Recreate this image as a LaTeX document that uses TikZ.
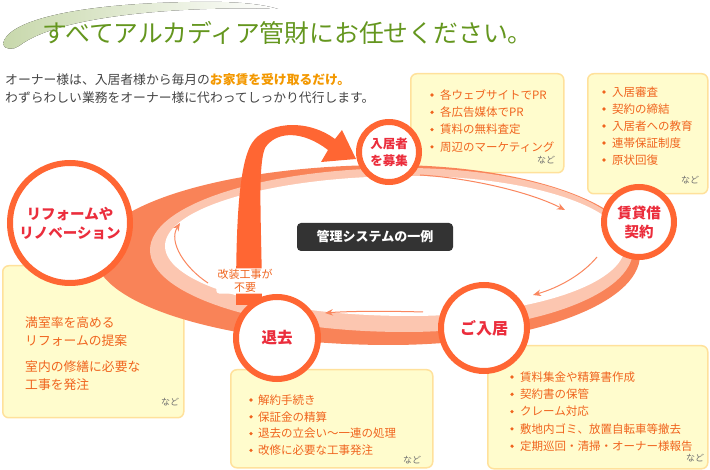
\documentclass[tikz,border=0pt]{standalone}
\usepackage{fontspec}
\setmainfont{Noto Sans CJK JP}
\usetikzlibrary{arrows.meta}
\definecolor{ringdark}{RGB}{249,131,88}
\definecolor{ringlight}{RGB}{252,198,176}
\definecolor{circc}{RGB}{255,102,51}
\definecolor{labelred}{RGB}{235,45,60}
\definecolor{boxfill}{RGB}{255,252,205}
\definecolor{boxdraw}{RGB}{255,225,155}
\definecolor{boxtext}{RGB}{240,100,30}
\definecolor{nadogray}{RGB}{110,110,110}
\definecolor{titlegreen}{RGB}{100,150,30}
\definecolor{subgray}{RGB}{68,68,68}
\definecolor{hl}{RGB}{243,152,0}
\definecolor{flowc}{RGB}{250,135,95}
\definecolor{swl}{RGB}{200,216,172}
\definecolor{darklabel}{RGB}{51,51,51}
\begin{document}
\begin{tikzpicture}[x=1pt,y=-1pt,
 box/.style={draw=boxdraw,fill=boxfill,line width=1.5pt,rounded corners=6pt,inner sep=0pt,anchor=north west},
 itm/.style={font=\fontsize{11.5}{14}\selectfont,text=boxtext,anchor=west,inner sep=0pt},
 bul/.style={circle,fill=boxtext,inner sep=0pt,minimum size=3.6pt},
 nado/.style={font=\fontsize{9}{10}\selectfont,text=nadogray,inner sep=0pt},
 stage/.style={circle,draw=circc,line width=6pt,fill=white,inner sep=0pt,align=center,text=labelred},
 flow/.style={draw=flowc,line width=1pt,-{Stealth[length=8pt,width=6.5pt]}},
]
\useasboundingbox (0,0) rectangle (710,470);
% title swoosh
\fill[left color=swl,right color=white] (3,44) .. controls (6,22) and (70,4) .. (190,2)
  .. controls (235,1) and (262,4) .. (278,9)
  .. controls (190,6) and (60,14) .. (19,46) .. controls (14,50) and (4,50) .. (3,44) -- cycle;
\node[anchor=west,inner sep=0pt,font=\fontsize{24.8}{25}\selectfont,text=titlegreen] (title) at (42,33) {すべてアルカディア管財にお任せください。};
\node[anchor=west,inner sep=0pt,font=\fontsize{12.8}{14}\selectfont,text=subgray] (sub1) at (5,80) {オーナー様は、入居者様から毎月の{\bfseries\color{hl}お家賃を受け取るだけ。}};
\node[anchor=west,inner sep=0pt,font=\fontsize{12.8}{14}\selectfont,text=subgray] (sub2) at (5,98) {わずらわしい業務をオーナー様に代わってしっかり代行します。};

% boxes
\node[box,minimum width=153pt,minimum height=99pt] (boxA) at (410,73) {};
\node[box,minimum width=120pt,minimum height=120pt] (boxB) at (587,73) {};
\node[box,minimum width=181pt,minimum height=152pt] (boxC) at (2,265) {};
\node[box,minimum width=202pt,minimum height=98pt] (boxD) at (230,369) {};
\node[box,minimum width=220pt,minimum height=123pt] (boxE) at (487,345) {};

\foreach \t [count=\i] in {各ウェブサイトでPR,各広告媒体でPR,賃料の無料査定,周辺のマーケティング}{
  \node[bul] (Ab\i) at (432,{95+17.3*(\i-1)}) {};
  \node[itm] (A\i) at (440,{95+17.3*(\i-1)}) {\t};}
\node[nado] (An) at (546,160) {など};
\foreach \t [count=\i] in {入居審査,契約の締結,入居者への教育,連帯保証制度,原状回復}{
  \node[bul] (Bb\i) at (604,{92+17*(\i-1)}) {};
  \node[itm] (B\i) at (612,{92+17*(\i-1)}) {\t};}
\node[nado] (Bn) at (690,180) {など};
\node[itm,font=\fontsize{12.8}{14}\selectfont] (C1) at (25,323) {満室率を高める};
\node[itm,font=\fontsize{12.8}{14}\selectfont] (C2) at (25,341) {リフォームの提案};
\node[itm,font=\fontsize{12.8}{14}\selectfont] (C3) at (25,367) {室内の修繕に必要な};
\node[itm,font=\fontsize{12.8}{14}\selectfont] (C4) at (25,385) {工事を発注};
\node[nado] (Cn) at (170,402) {など};
\foreach \t [count=\i] in {解約手続き,保証金の精算,退去の立会い～一連の処理,改修に必要な工事発注}{
  \node[bul] (Db\i) at (251,{400+16.8*(\i-1)}) {};
  \node[itm] (D\i) at (258,{400+16.8*(\i-1)}) {\t};}
\node[nado] (Dn) at (412,460) {など};
\foreach \t [count=\i] in {賃料集金や精算書作成,契約書の保管,クレーム対応,敷地内ゴミ、放置自転車等撤去,定期巡回・清掃・オーナー様報告}{
  \node[bul] (Eb\i) at (512,{377+17.3*(\i-1)}) {};
  \node[itm] (E\i) at (520,{377+17.3*(\i-1)}) {\t};}
\node[nado] (En) at (695,458) {など};

% ring
\fill[ringdark] (95,255) arc[start angle=180,end angle=270,x radius=295,y radius=90]
  arc[start angle=270,end angle=450,x radius=250,y radius=90]
  arc[start angle=90,end angle=180,x radius=295,y radius=90] -- cycle;
\fill[ringlight] (150,250) arc[start angle=180,end angle=270,x radius=255,y radius=82]
  arc[start angle=270,end angle=450,x radius=228,y radius=82]
  arc[start angle=90,end angle=180,x radius=255,y radius=82] -- cycle;
\fill[white] (165,246) arc[start angle=180,end angle=270,x radius=245,y radius=70]
  arc[start angle=270,end angle=450,x radius=215,y radius=70]
  arc[start angle=90,end angle=180,x radius=245,y radius=70] -- cycle;

% thin flow arrows
\coordinate (f1s) at (420,175); \coordinate (f1e) at (565,210);
\coordinate (f2s) at (597,257); \coordinate (f2e) at (533,295);
\coordinate (f3s) at (423,312); \coordinate (f3e) at (325,313);
\coordinate (f4s) at (208,283); \coordinate (f4e) at (180,223);
\draw[flow] (f1s) .. controls (470,178) and (530,192) .. (f1e);
\draw[flow] (f2s) .. controls (582,275) and (558,288) .. (f2e);
\draw[flow] (f3s) .. controls (390,311) and (350,311) .. (f3e);
\draw[flow] (f4s) .. controls (185,268) and (168,242) .. (f4e);

% big arrow
\fill[circc] (236,305) .. controls (236,230) and (238,165) .. (252,143)
  .. controls (265,123) and (305,117) .. (335,139) -- (342,130) -- (356,159) -- (321,162) -- (328,150)
  .. controls (302,130) and (276,131) .. (265,148) .. controls (257,168) and (262,230) .. (262,305) -- cycle;

% stages
\node[stage,minimum size=120pt,font=\bfseries\fontsize{14.5}{19}\selectfont] (reform) at (70,223) {リフォームや\\リノベーション};
\node[stage,minimum size=60pt,font=\bfseries\fontsize{12.5}{17}\selectfont] (boshu) at (389,152) {入居者\\を募集};
\node[stage,minimum size=70pt,font=\bfseries\fontsize{14.5}{19}\selectfont] (keiyaku) at (639,222) {賃貸借\\契約};
\node[stage,minimum size=86pt,font=\bfseries\fontsize{16}{18}\selectfont] (nyukyo) at (484,328) {ご入居};
\node[stage,minimum size=82pt,font=\bfseries\fontsize{15.5}{18}\selectfont] (taikyo) at (277,338) {退去};

% center label
\node[fill=darklabel,rounded corners=4pt,minimum width=156pt,minimum height=28pt,text=white,font=\bfseries\fontsize{13}{15}\selectfont] (label) at (375,237) {管理システムの一例};

% kaiso text
\node[align=center,inner sep=1.2pt,fill=white,rounded corners=3pt,text=boxtext,font=\fontsize{11}{12.5}\selectfont] (kaiso) at (245,281) {改装工事が\\不要};
\end{tikzpicture}
\end{document}
